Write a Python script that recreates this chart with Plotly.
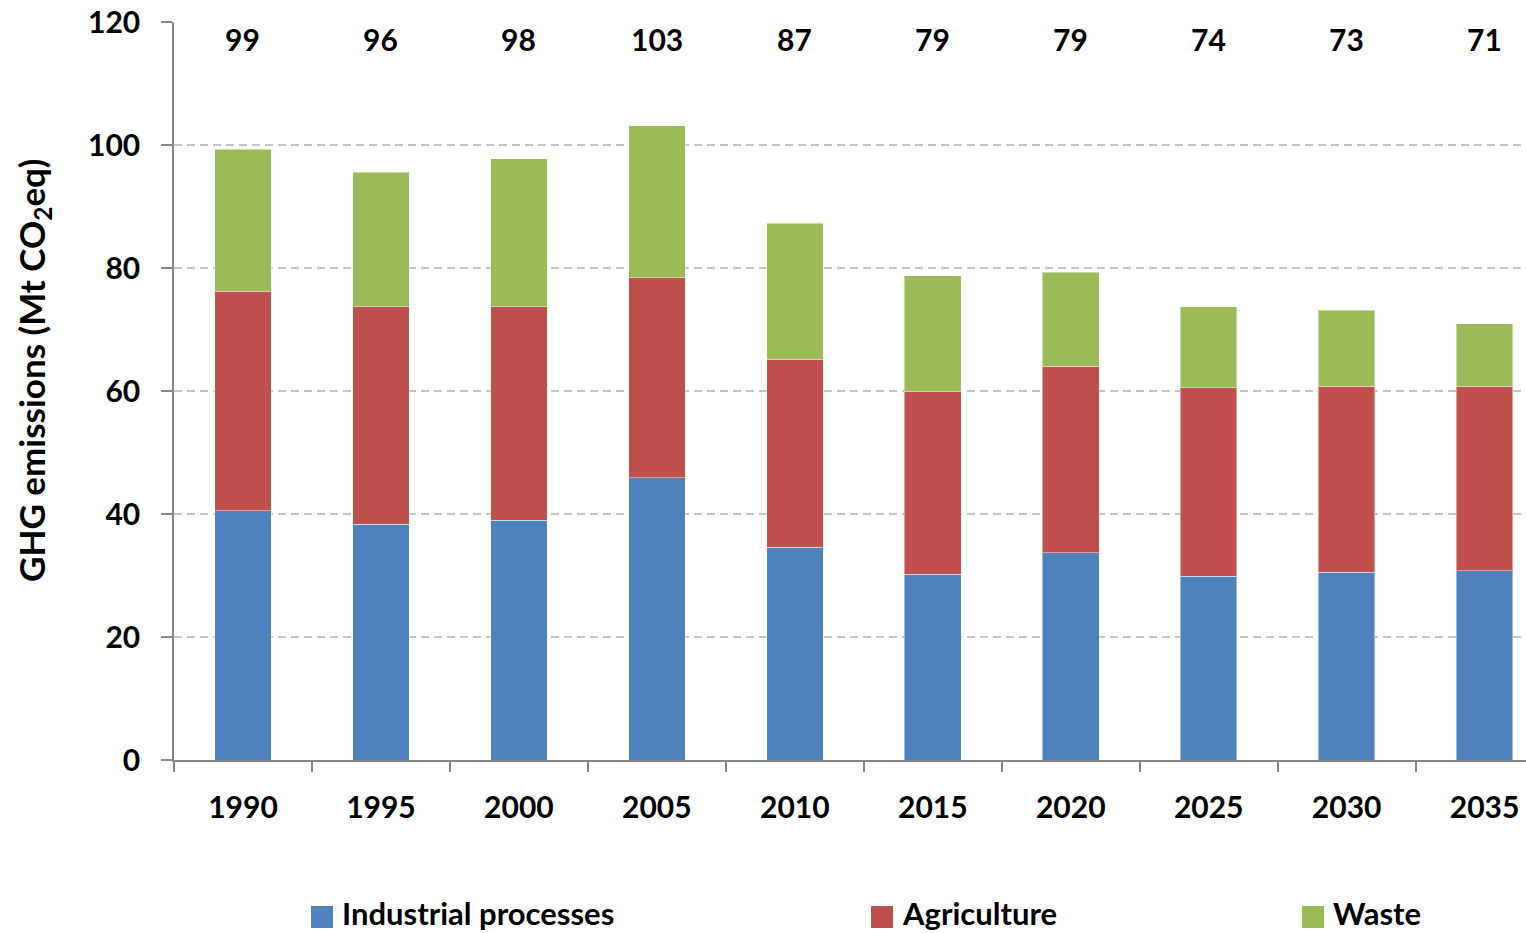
import plotly.graph_objects as go

# GHG emissions by sector, Mt CO2eq
years = ["1990", "1995", "2000", "2005", "2010", "2015", "2020", "2025", "2030", "2035"]
industrial = [40.5, 38.3, 39.0, 45.9, 34.6, 30.2, 33.7, 29.9, 30.5, 30.8]
agriculture = [35.7, 35.4, 34.7, 32.5, 30.6, 29.7, 30.3, 30.6, 30.3, 30.0]
waste = [23.1, 21.9, 24.1, 24.7, 22.1, 18.8, 15.3, 13.2, 12.3, 10.1]

series_names = ["Industrial processes", "Agriculture", "Waste"]
series_values = [industrial, agriculture, waste]
series_colors = ["#4F81BD", "#C0504D", "#9BBB59"]

totals = [round(a + b + c) for a, b, c in zip(industrial, agriculture, waste)]

W, H = 1526, 933
L, R, T, B = 174, 0, 22, 173
PW, PH = W - L - R, H - T - B
FONT = "Lato"


def px_x(px):
    return (px - L) / PW


def px_y(py):
    return (H - B - py) / PH


fig = go.Figure()
for name, vals, col in zip(series_names, series_values, series_colors):
    fig.add_trace(go.Bar(
        x=years, y=vals, name=name, marker_color=col,
        marker_line=dict(color="rgba(255,255,255,0.45)", width=1),
        showlegend=False,
    ))

# total labels above each column (category index on the x axis)
for i, tot in enumerate(totals):
    fig.add_annotation(x=i, y=117.2, xref="x", yref="y", text=f"<b>{tot}</b>",
                       showarrow=False,
                       font=dict(family=FONT, size=30, color="black"),
                       xanchor="center", yanchor="middle")

# y-axis title
fig.add_annotation(xref="paper", yref="paper", x=px_x(33), y=px_y(371),
                   text="<b>GHG emissions (Mt CO<sub>2</sub>eq)</b>", textangle=-90,
                   showarrow=False, font=dict(family=FONT, size=35, color="black"),
                   xanchor="center", yanchor="middle")

# legend drawn below the plot
legend_x = [311, 871, 1302]
for name, col, lx in zip(series_names, series_colors, legend_x):
    fig.add_shape(type="rect", xref="paper", yref="paper",
                  x0=px_x(lx), x1=px_x(lx + 22), y0=px_y(928), y1=px_y(906),
                  fillcolor=col, line=dict(width=0))
    fig.add_annotation(xref="paper", yref="paper", x=px_x(lx + 29), y=px_y(913),
                       text=f"<b>{name}</b>", showarrow=False,
                       font=dict(family=FONT, size=31, color="black"),
                       xanchor="left", yanchor="middle")

fig.update_layout(
    width=W, height=H,
    margin=dict(l=L, r=R, t=T, b=B, pad=0),
    paper_bgcolor="white", plot_bgcolor="white",
    barmode="stack", bargap=0.59,
    font=dict(family=FONT, size=30, color="black"),
)
fig.update_xaxes(
    type="category", range=[-0.5, 9.3],
    showline=True, linecolor="#868686", linewidth=1.5,
    ticks="outside", ticklen=10, tickcolor="#868686", tickwidth=1.5,
    tickson="boundaries", ticklabelstandoff=20,
    tickfont=dict(family=FONT, size=30, color="black", weight="bold"),
    showgrid=False, zeroline=False,
)
fig.update_yaxes(
    range=[0, 120], dtick=20, tick0=0,
    showline=True, linecolor="#868686", linewidth=1.5,
    ticks="outside", ticklen=11, tickcolor="#868686", tickwidth=1.5,
    ticklabelstandoff=15,
    tickfont=dict(family=FONT, size=30, color="black", weight="bold"),
    showgrid=True, gridcolor="#C4C4C4", gridwidth=2, griddash="8px,5px",
    zeroline=False,
)

fig.write_html("out.html")
